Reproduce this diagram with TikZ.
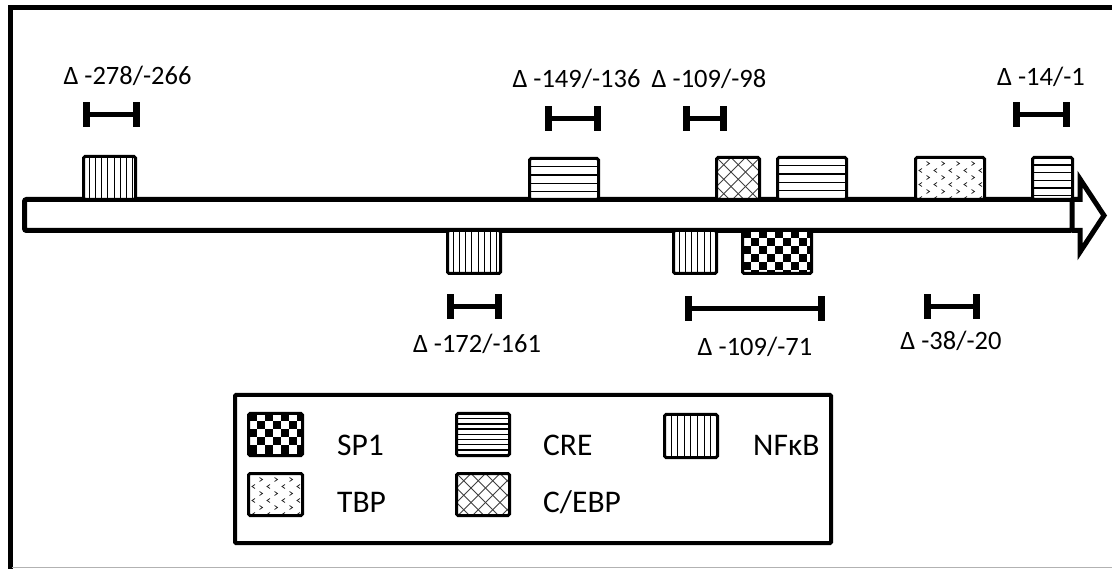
\documentclass[tikz,border=0pt]{standalone}
\usepackage{fontspec}
\setmainfont{Carlito}
\usetikzlibrary{fit}

\tikzset{
  tfbox/.style={draw, line width=3pt, rounded corners=1.5pt, inner sep=0pt},
  lbl/.style={font=\fontsize{26.5}{30}\selectfont, inner sep=0pt, anchor=base},
  leg/.style={font=\fontsize{31.5}{35}\selectfont, inner sep=0pt, anchor=base west},
  vline/.style={line width=1pt},
  hline/.style={line width=1.4pt},
  xline/.style={line width=0.8pt, black!75},
  chev/.style={line width=0.8pt, black!85},
  barline/.style={line width=5pt},
}

% vertical stripes (NFkB)
\newcommand\TFvert[6]{%
  \fill[white] (#2,#3) rectangle (#4,#5);
  \begin{scope}
    \clip (#2,#3) rectangle (#4,#5);
    \foreach \k in {1,...,16} \draw[vline] ({#2+\k*#6},#3) -- ({#2+\k*#6},#5);
  \end{scope}
  \node[tfbox, fit={(#2,#3) (#4,#5)}] (#1) {};
}
% horizontal stripes (CRE)
\newcommand\TFhorz[6]{%
  \fill[white] (#2,#3) rectangle (#4,#5);
  \begin{scope}
    \clip (#2,#3) rectangle (#4,#5);
    \foreach \k in {1,...,12} \draw[hline] (#2,{#3+\k*#6}) -- (#4,{#3+\k*#6});
  \end{scope}
  \node[tfbox, fit={(#2,#3) (#4,#5)}] (#1) {};
}
% crosshatch (C/EBP)
\newcommand\TFcross[5]{%
  \fill[white] (#2,#3) rectangle (#4,#5);
  \begin{scope}
    \clip (#2,#3) rectangle (#4,#5);
    \foreach \k in {-5,...,9} {
      \draw[xline] ({#2+\k*14.5},#3) -- ++(70,70);
      \draw[xline] ({#2+\k*14.5},#3) -- ++(-70,70);
    }
  \end{scope}
  \node[tfbox, fit={(#2,#3) (#4,#5)}] (#1) {};
}
% checkerboard (SP1)
\newcommand\TFcheck[5]{%
  \fill[white] (#2,#3) rectangle (#4,#5);
  \begin{scope}
    \clip (#2,#3) rectangle (#4,#5);
    \foreach \i in {0,...,10} \foreach \j in {0,...,6} {
      \pgfmathtruncatemacro\ck{mod(\i+\j,2)}
      \ifnum\ck=0 \fill ({#2+\i*8},{#3+\j*8}) rectangle ++(8,8); \fi
    }
  \end{scope}
  \node[tfbox, fit={(#2,#3) (#4,#5)}] (#1) {};
}
% chevron dots (TBP)
\newcommand\TFdots[5]{%
  \fill[white] (#2,#3) rectangle (#4,#5);
  \begin{scope}
    \clip (#2,#3) rectangle (#4,#5);
    \foreach \r in {0,...,5} \foreach \c in {0,...,5} {
      \pgfmathtruncatemacro\odd{mod(\r,2)}
      \ifnum\odd=0
        \draw[chev] ({#2+12.5+\c*15-1.5},{#3+6+\r*7-2}) -- ++(3,2) -- ++(-3,2);
      \else
        \draw[chev] ({#2+5+\c*15+1.5},{#3+6+\r*7-2}) -- ++(-3,2) -- ++(3,2);
      \fi
    }
  \end{scope}
  \node[tfbox, fit={(#2,#3) (#4,#5)}] (#1) {};
}
% I-shaped span bar
\newcommand\SpanBar[3]{%
  \draw[barline] (#1,#3) -- (#2,#3);
  \fill (#1,{#3-12.5}) rectangle ++(7,25);
  \fill ({#2-7},{#3-12.5}) rectangle ++(7,25);
}

\begin{document}
\begin{tikzpicture}[x=1pt,y=-1pt]
\useasboundingbox (0,0) rectangle (1112,569);
\fill[white] (0,0) rectangle (1112,569);

% outer frame (cropped)
\draw[line width=5pt] (10,569) -- (10,7.5) -- (1112,7.5);
\draw[black!30, line width=1.5pt] (12,567.5) -- (1112,567.5);

% promoter arrow
\draw[line width=5pt, fill=white, rounded corners=2pt] (24.5,199.5) rectangle (1072,230.5);
\draw[line width=5pt, line join=miter] (1072,199.5) -- (1080,199.5) -- (1080,179) -- (1104,215.5) -- (1080,252) -- (1080,230.5) -- (1072,230.5);

% binding sites above
\TFvert{nf1}{83.5}{156.5}{135.5}{199.5}{6.1}
\TFhorz{cre1}{529.5}{158.5}{598.5}{199.5}{8.3}
\TFcross{ceb1}{716.5}{157.5}{759.5}{199.5}
\TFhorz{cre2}{777.5}{157.5}{846.5}{199.5}{8.3}
\TFdots{tbp1}{915.5}{157.5}{984.5}{199.5}
\TFhorz{cre3}{1032.5}{157.5}{1072.5}{199.5}{7.6}
% binding sites below
\TFvert{nf2}{447.5}{230.5}{500.5}{273.5}{6.1}
\TFvert{nf3}{673.5}{230.5}{716.5}{273.5}{6.1}
\TFcheck{sp1}{742.5}{230.5}{811.5}{273.5}

% deletion spans
\SpanBar{83}{140}{114.5}
\SpanBar{545}{601}{118.5}
\SpanBar{683}{727}{118.5}
\SpanBar{1013}{1070}{114.5}
\SpanBar{447}{502}{306.5}
\SpanBar{685}{825}{308.5}
\SpanBar{924}{980}{306.5}

\node[lbl] (d1) at (127.5,85) {Δ -278/-266};
\node[lbl] (d2) at (576.5,88) {Δ -149/-136};
\node[lbl] (d3) at (709,88) {Δ -109/-98};
\node[lbl] (d4) at (1041,86) {Δ -14/-1};
\node[lbl] (d5) at (477,353) {Δ -172/-161};
\node[lbl] (d6) at (755,356) {Δ -109/-71};
\node[lbl] (d7) at (951,350) {Δ -38/-20};

% legend
\draw[line width=4pt, rounded corners=1pt] (235,395) rectangle (831,543);
\TFcheck{lsp}{248.5}{413.5}{302.5}{455.5}
\TFhorz{lcre}{456.5}{413.5}{509.5}{455.5}{5.2}
\TFvert{lnf}{664.5}{414.5}{717.5}{457.5}{6.6}
\TFdots{ltbp}{248.5}{473.5}{302.5}{515.5}
\TFcross{lceb}{456.5}{473.5}{509.5}{515.5}

\node[leg] (t1) at (337,455) {SP1};
\node[leg] (t2) at (543,455) {CRE};
\node[leg] (t3) at (753,455) {NFκB};
\node[leg] (t4) at (337,512) {TBP};
\node[leg] (t5) at (543,512) {C/EBP};
\end{tikzpicture}
\end{document}
